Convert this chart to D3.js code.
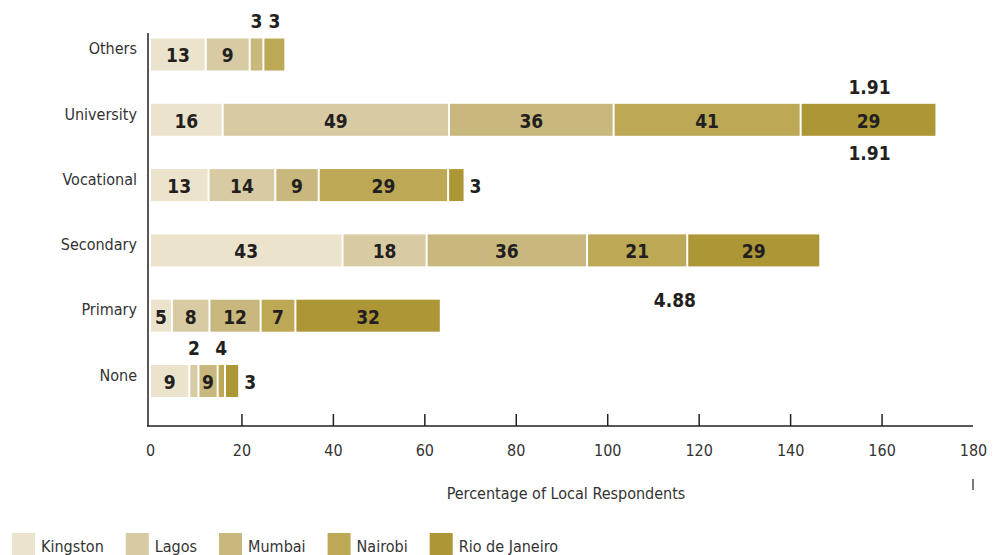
<!DOCTYPE html>
<html><head><meta charset="utf-8">
<script src="https://cdn.jsdelivr.net/npm/d3@7"></script>
<style>body{margin:0;background:#fff}svg{display:block}</style>
</head><body>
<svg id="chart" width="993" height="555"></svg>
<script>
// ---- data ----
const categories = ["Others", "University", "Vocational", "Secondary", "Primary", "None"];
const seriesNames = ["Kingston", "Lagos", "Mumbai", "Nairobi", "Rio de Janeiro"];
const kingston = [12.2, 15.9, 12.8, 42.1, 4.8, 8.6];
const lagos    = [9.6, 49.5, 14.6, 18.4, 8.2, 2.0];
const mumbai   = [3.0, 36.0, 9.5, 35.1, 11.2, 4.2];
const nairobi  = [4.8, 40.9, 28.3, 21.9, 7.6, 1.6];
const rio      = [0, 29.7, 3.6, 29.1, 31.8, 3.1];
const kingstonLabels = ["13", "16", "13", "43", "5", "9"];
const lagosLabels    = ["9", "49", "14", "18", "8", "2"];
const mumbaiLabels   = ["3", "36", "9", "36", "12", "9"];
const nairobiLabels  = ["3", "41", "29", "21", "7", "4"];
const rioLabels      = ["", "29", "3", "29", "32", "3"];
const xTicks = [0, 20, 40, 60, 80, 100, 120, 140, 160, 180];
const xTitle = "Percentage of Local Respondents";
const noteTexts = ["1.91", "1.91", "4.88"];

const seriesValues = [kingston, lagos, mumbai, nairobi, rio];
const seriesLabels = [kingstonLabels, lagosLabels, mumbaiLabels, nairobiLabels, rioLabels];
const colors = ["#ebe3cc", "#d8cba3", "#c9b87d", "#bca855", "#ad9636"];

const FONT = "'Liberation Sans Narrow', 'DejaVu Sans Condensed', 'Liberation Sans', sans-serif";
const svg = d3.select("#chart");
const x = d3.scaleLinear().domain([0, 180]).range([150, 973]);
const y = d3.scalePoint().domain(categories).range([54.5, 381]);
const barH = 32;

// stacked data
const rows = categories.map((c, i) => {
  const o = { category: c };
  seriesNames.forEach((s, j) => o[s] = seriesValues[j][i]);
  return o;
});
const stacked = d3.stack().keys(seriesNames)(rows);

// placement of outside labels
const above = new Set(["Others|Mumbai", "Others|Nairobi", "None|Lagos", "None|Nairobi"]);
const right = new Set(["Vocational|Rio de Janeiro", "None|Rio de Janeiro"]);

const g = svg.append("g");
stacked.forEach((layer, j) => {
  layer.forEach((d, i) => {
    const v = d[1] - d[0];
    if (v <= 0) return;
    const cat = categories[i];
    const x0 = x(d[0]), x1 = x(d[1]);
    const yc = y(cat);
    g.append("rect")
      .attr("x", x0 + 1).attr("y", yc - barH / 2)
      .attr("width", Math.max(0, x1 - x0 - 2)).attr("height", barH)
      .attr("fill", colors[j]);
    const lab = seriesLabels[j][i];
    if (!lab) return;
    const key = cat + "|" + seriesNames[j];
    let tx = (x0 + x1) / 2, ty = yc + 1, anchor = "middle";
    if (above.has(key)) ty = yc - 33;
    else if (right.has(key)) { tx = x1 + 5; anchor = "start"; }
    g.append("text")
      .attr("x", tx).attr("y", ty).attr("dy", "0.36em")
      .attr("text-anchor", anchor)
      .attr("font-family", FONT).attr("font-weight", "bold")
      .attr("font-size", 19).attr("fill", "#231f20")
      .text(lab);
  });
});

// notes
const uniRio = stacked[4][1];
const notePos = [
  [(x(uniRio[0]) + x(uniRio[1])) / 2 + 1, y("University") - 33],
  [(x(uniRio[0]) + x(uniRio[1])) / 2 + 1, y("University") + 33],
  [x(114.8), y("Primary") - 16]
];
noteTexts.forEach((t, k) => {
  svg.append("text")
    .attr("x", notePos[k][0]).attr("y", notePos[k][1]).attr("dy", "0.36em")
    .attr("text-anchor", "middle")
    .attr("font-family", FONT).attr("font-weight", "bold")
    .attr("font-size", 19).attr("fill", "#231f20")
    .text(t);
});

// y axis
svg.append("line").attr("x1", 148).attr("x2", 148).attr("y1", 33).attr("y2", 426)
  .attr("stroke", "#231f20").attr("stroke-width", 1.5);
categories.forEach(c => {
  svg.append("text").attr("x", 137).attr("y", y(c) - 6).attr("dy", "0.36em")
    .attr("text-anchor", "end").attr("font-family", FONT).attr("font-size", 16)
    .attr("fill", "#333").text(c);
});

// x axis
const xAxis = d3.axisBottom(x).tickValues(xTicks).tickSizeInner(-12).tickSizeOuter(0).tickPadding(19);
const ax = svg.append("g").attr("transform", "translate(0,426)").call(xAxis);
ax.select(".domain").attr("stroke", "#231f20").attr("stroke-width", 1.5)
  .attr("d", `M147,0H${x(180)}`);
ax.selectAll(".tick line").attr("stroke", "#231f20").attr("stroke-width", 1.5)
  .filter(d => d === 0 || d === 180).remove();
ax.selectAll(".tick text").attr("font-family", FONT).attr("font-size", 16).attr("fill", "#333");
svg.append("line").attr("x1", x(180)).attr("x2", x(180)).attr("y1", 479).attr("y2", 490)
  .attr("stroke", "#231f20").attr("stroke-width", 1.2);

svg.append("text").attr("x", 566).attr("y", 493).attr("dy", "0.36em")
  .attr("text-anchor", "middle").attr("font-family", FONT).attr("font-size", 16)
  .attr("fill", "#333").text(xTitle);

// legend
let lx = 12;
seriesNames.forEach((s, j) => {
  svg.append("rect").attr("x", lx).attr("y", 533).attr("width", 23).attr("height", 23).attr("fill", colors[j]);
  const t = svg.append("text").attr("x", lx + 29).attr("y", 546).attr("dy", "0.36em")
    .attr("font-family", FONT).attr("font-size", 16).attr("fill", "#333").text(s);
  lx += 29 + t.node().getComputedTextLength() + 22;
});
</script>
</body></html>
